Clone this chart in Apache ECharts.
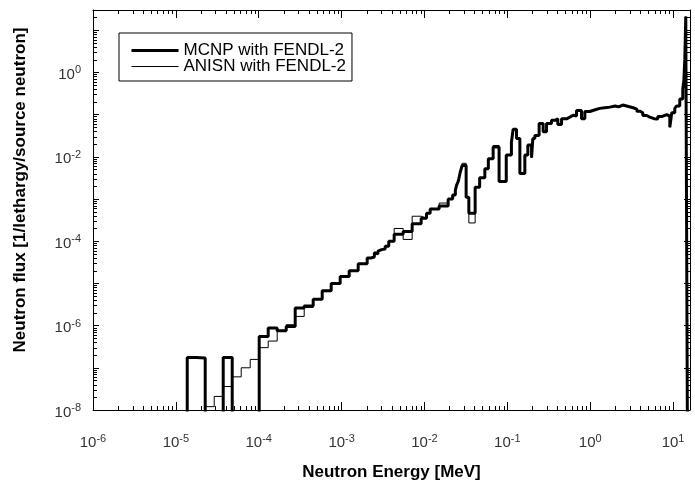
<!DOCTYPE html>
<html>
<head>
<meta charset="utf-8">
<script src="https://cdn.jsdelivr.net/npm/echarts@6/dist/echarts.min.js"></script>
<style>
  html, body { margin: 0; padding: 0; background: #fff; }
  #chart { width: 695px; height: 486px; }
</style>
</head>
<body>
<div id="chart"></div>
<script>
// flux below the plotted range (drawn as a drop onto the x axis)
var ZERO = 1e-9;

// group boundaries [MeV]
var edges = [
  1.068e-5, 1.371e-5, 1.76e-5, 2.26e-5, 2.902e-5, 3.727e-5, 4.785e-5, 6.144e-5, 7.889e-5, 1.013e-4,
  1.301e-4, 1.67e-4, 2.145e-4, 2.754e-4, 3.536e-4, 4.54e-4, 5.83e-4, 7.485e-4, 9.611e-4, 1.234e-3,
  1.585e-3, 2.035e-3, 2.249e-3, 2.485e-3, 2.613e-3, 2.747e-3, 2.888e-3, 3.035e-3, 3.355e-3, 3.707e-3,
  4.307e-3, 5.531e-3, 7.102e-3, 9.119e-3, 1.059e-2, 1.171e-2, 1.503e-2, 1.93e-2, 2.187e-2, 2.358e-2,
  2.436e-2, 2.554e-2, 2.606e-2, 2.7e-2, 2.85e-2, 3.182e-2, 3.431e-2, 4.087e-2, 4.631e-2, 5.35e-2,
  5.9e-2, 6.74e-2, 7.95e-2, 9.7e-2, 0.112, 0.1175, 0.129, 0.1416, 0.1626, 0.1768,
  0.196, 0.203, 0.2147, 0.2418, 0.2704, 0.2972, 0.3413, 0.374, 0.4066, 0.4508,
  0.5176, 0.5675, 0.622, 0.6834, 0.785, 0.861, 0.989, 1.15, 1.305, 1.5,
  1.723, 2.0, 2.2, 2.47, 2.9, 3.3, 3.65, 4.0, 4.31, 4.8,
  5.24, 5.9, 6.54, 7.4, 8.4, 9.13, 9.64, 10.48, 11.05, 12.04,
  13.09, 13.5, 13.84, 14.23, 14.92, 16
];

// flux per group [1/lethargy/source neutron]
var mcnp = [
  ZERO, 1.75e-7, 1.7e-7, ZERO, ZERO, 1.75e-7, ZERO, ZERO, ZERO, 5.5e-7,
  8.8e-7, 7.5e-7, 9.5e-7, 2.6e-6, 2.9e-6, 4.2e-6, 6.7e-6, 1.0e-5, 1.45e-5, 2.0e-5,
  2.9e-5, 4.0e-5, 4.2e-5, 5.3e-5, 5.0e-5, 5.8e-5, 6.3e-5, 6.5e-5, 7.6e-5, 1.0e-4,
  1.45e-4, 1.7e-4, 2.6e-4, 3.5e-4, 4.6e-4, 5.8e-4, 6.8e-4, 1.0e-3, 1.25e-3, 1.6e-3,
  2.1e-3, 2.6e-3, 3.1e-3, 4.3e-3, 6.2e-3, 1.1e-3, 4.6e-4, 1.9e-3, 3.2e-3, 5.2e-3,
  9.0e-3, 1.7e-2, 2.6e-3, 1.1e-2, 2.2e-2, 4.5e-2, 2.7e-2, 4.0e-3, 1.1e-2, 1.9e-2,
  9.5e-3, 2.7e-2, 3.2e-2, 6.1e-2, 3.9e-2, 6.1e-2, 7.3e-2, 7.9e-2, 5.8e-2, 7.9e-2,
  8.7e-2, 9.6e-2, 9.2e-2, 0.125, 0.08, 0.118, 0.13, 0.14, 0.145, 0.15,
  0.16, 0.152, 0.168, 0.155, 0.145, 0.135, 0.12, 0.11, 0.095, 0.087,
  0.08, 0.078, 0.09, 0.1, 0.092, 0.05, 0.11, 0.14, 0.16, 0.235,
  0.4, 0.65, 2.0, 21, ZERO
];

var anisn = [
  ZERO, 3e-9, 6e-9, 1.2e-8, 2.1e-8, 3.6e-8, 6.1e-8, 1.0e-7, 1.58e-7, 3.0e-7,
  4.3e-7, 7.5e-7, 1.05e-6, 1.65e-6, 2.7e-6, 4.2e-6, 6.4e-6, 1.0e-5, 1.4e-5, 2.0e-5,
  2.9e-5, 4.0e-5, 4.1e-5, 5.2e-5, 5.3e-5, 5.8e-5, 6.2e-5, 6.6e-5, 7.6e-5, 1.0e-4,
  2.0e-4, 1.1e-4, 3.9e-4, 3.5e-4, 4.6e-4, 5.8e-4, 8.0e-4, 1.0e-3, 1.25e-3, 1.6e-3,
  2.1e-3, 2.6e-3, 3.1e-3, 4.3e-3, 7.0e-3, 1.1e-3, 2.7e-4, 1.9e-3, 3.2e-3, 5.2e-3,
  9.0e-3, 1.85e-2, 2.6e-3, 1.1e-2, 2.2e-2, 4.5e-2, 2.7e-2, 4.0e-3, 1.1e-2, 1.9e-2,
  9.5e-3, 2.7e-2, 3.2e-2, 6.1e-2, 3.9e-2, 6.1e-2, 7.3e-2, 7.9e-2, 5.8e-2, 7.9e-2,
  8.7e-2, 9.6e-2, 9.2e-2, 0.125, 0.08, 0.118, 0.13, 0.14, 0.145, 0.15,
  0.16, 0.152, 0.168, 0.155, 0.145, 0.135, 0.12, 0.11, 0.095, 0.087,
  0.08, 0.078, 0.09, 0.1, 0.092, 0.05, 0.11, 0.14, 0.16, 0.235,
  0.4, 0.65, 2.0, 21, ZERO
];

var xRange = [1e-6, 16];
var yRange = [1e-8, 30];

// histogram -> step points (left edge of each group + final right edge)
function toSteps(vals) {
  var pts = [];
  for (var i = 0; i < vals.length; i++) {
    pts.push([edges[i], vals[i]]);
  }
  pts.push([edges[edges.length - 1], vals[vals.length - 1]]);
  return pts;
}

// 2..9 x 10^k minor ticks inside a range
function minorTicks(range) {
  var out = [];
  for (var k = Math.floor(Math.log10(range[0])); k <= Math.ceil(Math.log10(range[1])); k++) {
    for (var m = 2; m <= 9; m++) {
      var v = m * Math.pow(10, k);
      if (v > range[0] && v < range[1]) out.push(v);
    }
  }
  return out;
}

function expOf(v) {
  var l = Math.log10(v);
  var e = Math.round(l);
  return Math.abs(l - e) < 1e-6 ? e : null;
}
function xLabel(v) {
  var e = expOf(v);
  if (e === null) return '';
  return '{b|10}{s|' + e + '}';
}
function yLabel(v) {
  var e = expOf(v);
  if (e === null || e % 2 !== 0) return '';
  return '{b|10}{s|' + e + '}';
}

var FONT = 'Liberation Sans, Arial, sans-serif';
var LBL = '#333';
var richLbl = {
  b: { fontSize: 15, lineHeight: 20, color: LBL, fontFamily: FONT },
  s: { fontSize: 11, lineHeight: 10, verticalAlign: 'top', color: LBL, fontFamily: FONT }
};

var axisLine = { show: true, lineStyle: { color: '#000', width: 1 } };
var MINOR_LEN = 4;

function px(v) { return Math.round(v) + 0.5; }

function xMinorItem(params, api) {
  var cs = params.coordSys;
  var x = px(api.coord([api.value(0), yRange[0]])[0]);
  var st = { stroke: '#000', lineWidth: 1 };
  return { type: 'group', children: [
    { type: 'line', shape: { x1: x, y1: cs.y + cs.height, x2: x, y2: cs.y + cs.height - MINOR_LEN }, style: st },
    { type: 'line', shape: { x1: x, y1: cs.y, x2: x, y2: cs.y + MINOR_LEN }, style: st }
  ] };
}
function yMinorItem(params, api) {
  var cs = params.coordSys;
  var y = px(api.coord([xRange[0], api.value(1)])[1]);
  var st = { stroke: '#000', lineWidth: 1 };
  return { type: 'group', children: [
    { type: 'line', shape: { x1: cs.x, y1: y, x2: cs.x + MINOR_LEN, y2: y }, style: st },
    { type: 'line', shape: { x1: cs.x + cs.width, y1: y, x2: cs.x + cs.width - MINOR_LEN, y2: y }, style: st }
  ] };
}

var chart = echarts.init(document.getElementById('chart'));
chart.setOption({
  animation: false,
  backgroundColor: '#fff',
  grid: { left: 93, right: 5, top: 10, bottom: 73 },
  legend: {
    left: 119, top: 33,
    orient: 'vertical',
    itemWidth: 47, itemHeight: 14, itemGap: -1,
    padding: [9, 6, 6, 11],
    borderColor: '#000', borderWidth: 1,
    itemStyle: { opacity: 0 },
    textStyle: { fontSize: 17, lineHeight: 15, color: '#000', fontFamily: FONT },
    data: [
      { name: 'MCNP with FENDL-2', lineStyle: { width: 3, color: '#000' } },
      { name: 'ANISN with FENDL-2', lineStyle: { width: 1, color: '#000' } }
    ]
  },
  xAxis: [{
    type: 'log', logBase: 10, min: xRange[0], max: xRange[1], splitNumber: 8,
    name: 'Neutron Energy [MeV]', nameLocation: 'middle', nameGap: 54,
    nameTextStyle: { fontSize: 17, fontWeight: 'bold', color: '#000', fontFamily: FONT },
    axisLine: axisLine,
    axisTick: { show: true, inside: true, length: 8, lineStyle: { color: '#000' } },
    axisLabel: { formatter: xLabel, rich: richLbl, margin: 23, showMaxLabel: false },
    splitLine: { show: false }
  }, {
    type: 'log', logBase: 10, min: xRange[0], max: xRange[1], splitNumber: 8, position: 'top',
    axisLine: axisLine,
    axisTick: { show: true, inside: true, length: 8, lineStyle: { color: '#000' } },
    axisLabel: { show: false },
    splitLine: { show: false }
  }],
  yAxis: [{
    type: 'log', logBase: 10, min: yRange[0], max: yRange[1], splitNumber: 10,
    name: 'Neutron flux [1/lethargy/source neutron]', nameLocation: 'middle', nameGap: 64,
    nameTextStyle: { fontSize: 17, fontWeight: 'bold', color: '#000', fontFamily: FONT, padding: [0, 0, 0, 40] },
    axisLine: axisLine,
    axisTick: { show: true, inside: true, length: 6, lineStyle: { color: '#000' } },
    axisLabel: { formatter: yLabel, rich: richLbl, margin: 12, padding: [5, 0, 0, 0], showMaxLabel: false },
    splitLine: { show: false }
  }, {
    type: 'log', logBase: 10, min: yRange[0], max: yRange[1], splitNumber: 10, position: 'right',
    axisLine: axisLine,
    axisTick: { show: true, inside: true, length: 6, lineStyle: { color: '#000' } },
    axisLabel: { show: false },
    splitLine: { show: false }
  }],
  series: [{
    name: 'MCNP with FENDL-2',
    type: 'line', step: 'end', showSymbol: false, symbol: 'none',
    xAxisIndex: 0, yAxisIndex: 0, clip: true,
    lineStyle: { color: '#000', width: 3 },
    itemStyle: { color: '#000' },
    data: toSteps(mcnp)
  }, {
    name: 'ANISN with FENDL-2',
    type: 'line', step: 'end', showSymbol: false, symbol: 'none',
    xAxisIndex: 0, yAxisIndex: 0, clip: true,
    lineStyle: { color: '#000', width: 1 },
    itemStyle: { color: '#000' },
    data: toSteps(anisn)
  }, {
    name: 'xMinor', type: 'custom', silent: true, clip: false,
    xAxisIndex: 0, yAxisIndex: 0,
    renderItem: xMinorItem,
    data: minorTicks(xRange).map(function (v) { return [v, yRange[0]]; })
  }, {
    name: 'yMinor', type: 'custom', silent: true, clip: false,
    xAxisIndex: 0, yAxisIndex: 0,
    renderItem: yMinorItem,
    data: minorTicks(yRange).map(function (v) { return [xRange[0], v]; })
  }]
});
</script>
</body>
</html>
